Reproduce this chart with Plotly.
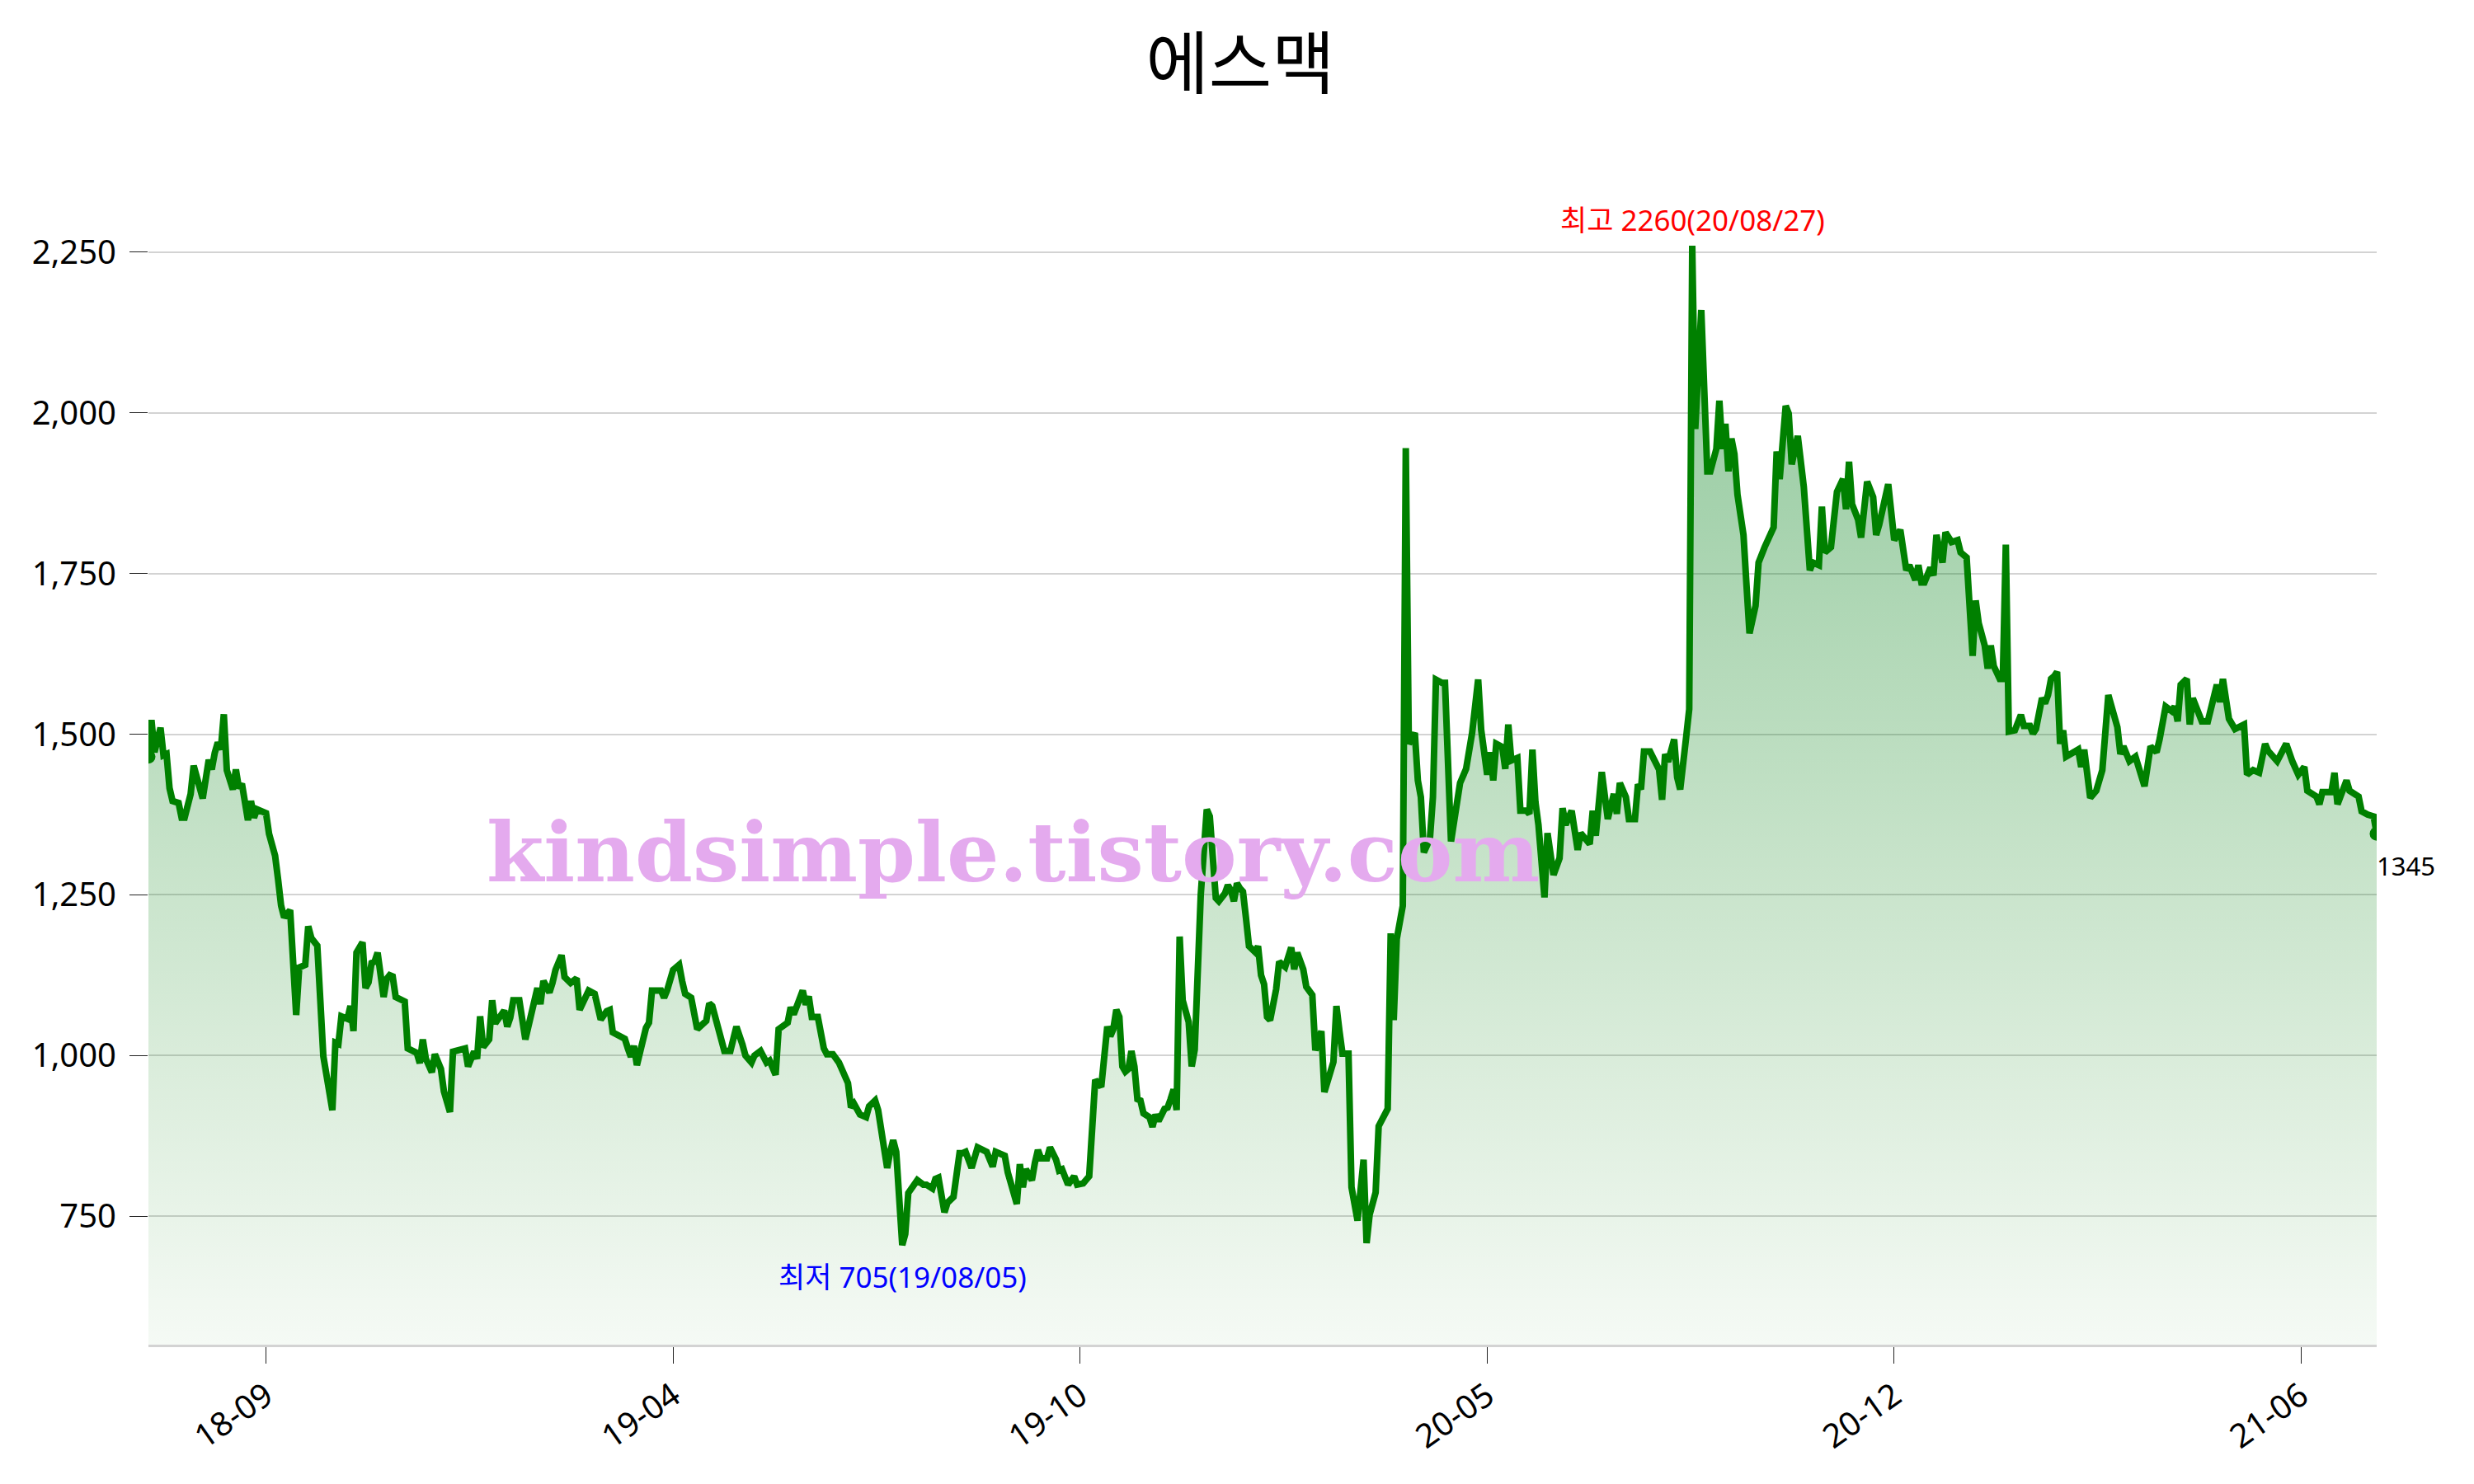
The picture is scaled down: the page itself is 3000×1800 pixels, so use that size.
import plotly.graph_objects as go

chart_title = "에스맥"

# trading-day number (0 = first session shown) and closing price
day_index = [
    0, 1, 2, 4, 5, 6, 7, 8, 10, 11, 12, 14, 15, 17, 18, 20, 21, 22, 23, 24,
    25, 26, 28, 29, 30, 31, 32, 33, 34, 35, 36, 39, 40, 42, 43, 44, 45, 47, 49, 50,
    52, 53, 54, 56, 57, 58, 61, 62, 63, 64, 66, 67, 68, 69, 71, 72, 73, 74, 75, 76,
    78, 79, 80, 81, 82, 85, 86, 87, 89, 90, 91, 92, 94, 95, 97, 98, 100, 101, 105, 106,
    108, 109, 110, 111, 113, 114, 115, 118, 119, 120, 121, 123, 124, 125, 129, 130, 131, 133, 134, 135,
    137, 138, 140, 142, 143, 146, 148, 150, 152, 153, 154, 156, 158, 159, 160, 161, 162, 165, 166, 167,
    170, 171, 172, 174, 176, 177, 178, 180, 181, 182, 185, 186, 187, 190, 191, 193, 195, 197, 198, 200,
    201, 203, 205, 206, 208, 209, 212, 213, 214, 217, 218, 219, 220, 222, 224, 225, 227, 229, 232, 233,
    234, 236, 238, 239, 241, 242, 244, 245, 246, 247, 248, 250, 251, 252, 255, 257, 258, 260, 261, 262,
    264, 265, 267, 269, 270, 271, 273, 275, 278, 280, 281, 284, 285, 288, 289, 290, 291, 293, 294, 295,
    296, 298, 299, 301, 302, 303, 305, 307, 308, 310, 312, 314, 316, 318, 319, 320, 321, 322, 323, 324,
    325, 326, 327, 328, 329, 330, 332, 333, 334, 335, 337, 338, 339, 340, 341, 342, 343, 345, 346, 347,
    349, 350, 351, 352, 353, 354, 355, 357, 358, 359, 360, 361, 362, 363, 364, 365, 367, 368, 369, 370,
    371, 372, 374, 375, 377, 379, 380, 381, 383, 384, 386, 387, 389, 390, 393, 394, 395, 396, 398, 399,
    401, 403, 404, 405, 407, 408, 411, 412, 413, 414, 416, 417, 418, 420, 421, 422, 423, 425, 426, 427,
    429, 430, 432, 435, 437, 439, 441, 442, 444, 445, 446, 447, 449, 450, 451, 452, 454, 455, 457, 458,
    459, 460, 461, 463, 464, 466, 468, 469, 470, 472, 474, 475, 478, 479, 480, 482, 484, 486, 487, 488,
    490, 491, 493, 494, 495, 496, 498, 500, 501, 502, 503, 504, 506, 507, 508, 510, 511, 512, 513, 515,
    516, 517, 518, 520, 521, 522, 523, 524, 525, 526, 527, 529, 530, 531, 533, 534, 536, 539, 540, 541,
    543, 544, 545, 547, 549, 551, 552, 554, 555, 556, 558, 560, 562, 563, 564, 565, 567, 568, 570, 572,
    573, 574, 577, 578, 579, 581, 583, 584, 586, 587, 588, 589, 591, 592, 593, 594, 595, 596, 598, 600,
    601, 603, 604, 605, 606, 607, 609, 610, 611, 612, 614, 615, 616, 617, 619, 621, 622, 624, 625, 626,
    628, 629, 630, 631, 632, 633, 634, 635, 636, 638, 640, 641, 642, 644, 646, 648, 650, 653, 654, 655,
    657, 659, 662, 664, 666, 667, 669, 671, 672, 673, 674, 676, 677, 678, 681, 683, 684, 686, 687, 688,
    690, 692, 695, 696, 698, 700, 702, 703, 706, 709, 711, 713, 715, 716, 719, 720, 721, 724, 725, 726,
    729, 730, 733, 734, 736, 738, 739,
]
close_price = [
    1465, 1522, 1472, 1510, 1467, 1469, 1416, 1396, 1393, 1370, 1370, 1407, 1451, 1421, 1400, 1460, 1445, 1471, 1487, 1476,
    1531, 1444, 1414, 1445, 1416, 1423, 1393, 1366, 1396, 1370, 1383, 1377, 1345, 1311, 1274, 1233, 1215, 1226, 1063, 1137,
    1141, 1201, 1183, 1171, 1086, 999, 915, 1020, 1018, 1061, 1057, 1077, 1038, 1160, 1176, 1105, 1114, 1144, 1146, 1160,
    1091, 1119, 1125, 1123, 1091, 1084, 1011, 1009, 1004, 988, 1025, 995, 974, 1002, 979, 944, 912, 1006, 1011, 983,
    1006, 995, 1061, 1013, 1025, 1086, 1050, 1070, 1045, 1059, 1086, 1086, 1059, 1025, 1105, 1080, 1116, 1098, 1113, 1133,
    1156, 1122, 1113, 1120, 1071, 1101, 1096, 1056, 1069, 1071, 1036, 1030, 1026, 1011, 998, 1015, 985, 1043, 1051, 1101,
    1101, 1090, 1101, 1133, 1141, 1116, 1096, 1090, 1069, 1041, 1054, 1081, 1077, 1030, 1007, 1007, 1045, 1017, 1000, 989,
    1000, 1007, 989, 992, 970, 1041, 1051, 1075, 1064, 1101, 1079, 1092, 1060, 1060, 1011, 1002, 1002, 989, 957, 919,
    925, 908, 904, 921, 930, 915, 855, 825, 850, 868, 850, 705, 722, 786, 806, 799, 799, 793, 808, 810,
    756, 771, 780, 848, 848, 850, 825, 857, 850, 827, 850, 844, 818, 769, 831, 795, 823, 806, 833, 853,
    840, 840, 857, 838, 821, 823, 799, 812, 799, 801, 812, 962, 951, 1045, 1030, 1041, 1071, 1060, 983, 975,
    979, 1007, 983, 932, 930, 910, 904, 889, 908, 898, 917, 919, 932, 947, 915, 1185, 1086, 1052, 983, 1009,
    1250, 1330, 1383, 1372, 1300, 1245, 1240, 1252, 1265, 1257, 1240, 1268, 1260, 1255, 1214, 1170, 1161, 1170, 1125, 1111,
    1060, 1055, 1103, 1146, 1138, 1168, 1134, 1160, 1134, 1107, 1094, 1008, 1038, 943, 990, 1077, 1038, 1003, 1003, 795,
    743, 838, 708, 752, 787, 890, 917, 1190, 1055, 1181, 1233, 1945, 1485, 1502, 1428, 1402, 1316, 1337, 1402, 1585,
    1580, 1580, 1333, 1424, 1446, 1502, 1585, 1507, 1437, 1472, 1428, 1485, 1480, 1446, 1515, 1459, 1463, 1381, 1381, 1376,
    1476, 1394, 1359, 1246, 1346, 1281, 1307, 1385, 1359, 1381, 1320, 1346, 1329, 1381, 1342, 1441, 1368, 1407, 1376, 1424,
    1402, 1368, 1368, 1422, 1414, 1473, 1473, 1450, 1445, 1398, 1469, 1457, 1492, 1433, 1414, 1496, 1539, 2260, 1975, 2160,
    2022, 1909, 1909, 1944, 2019, 1944, 1983, 1909, 1960, 1936, 1873, 1810, 1732, 1657, 1700, 1767, 1791, 1822, 1940, 1897,
    2011, 1999, 1920, 1964, 1885, 1755, 1767, 1763, 1854, 1783, 1791, 1877, 1897, 1850, 1924, 1858, 1834, 1806, 1893, 1869,
    1810, 1826, 1889, 1834, 1802, 1818, 1755, 1763, 1740, 1763, 1736, 1736, 1759, 1747, 1810, 1787, 1767, 1814, 1799, 1802,
    1783, 1775, 1693, 1622, 1708, 1673, 1638, 1602, 1638, 1606, 1586, 1586, 1795, 1504, 1506, 1530, 1513, 1513, 1501, 1508,
    1556, 1548, 1561, 1586, 1590, 1597, 1485, 1506, 1465, 1470, 1476, 1449, 1476, 1401, 1412, 1444, 1561, 1511, 1469, 1481,
    1458, 1465, 1419, 1481, 1472, 1492, 1543, 1536, 1543, 1520, 1577, 1586, 1515, 1556, 1520, 1520, 1536, 1577, 1550, 1586,
    1524, 1508, 1515, 1437, 1444, 1440, 1485, 1474, 1458, 1485, 1458, 1437, 1449, 1412, 1403, 1391, 1410, 1410, 1440, 1391,
    1428, 1412, 1403, 1380, 1375, 1372, 1345,
]

tick_index = [39, 174, 309, 444, 579, 714]
tick_labels = ["18-09", "19-04", "19-10", "20-05", "20-12", "21-06"]
price_ticks = [750, 1000, 1250, 1500, 1750, 2000, 2250]
high_date = "20/08/27"
low_date = "19/08/05"
watermark_text = "kindsimple.tistory.com"

hi_pos = close_price.index(max(close_price))
lo_pos = close_price.index(min(close_price))

fig = go.Figure()
fig.add_trace(go.Scatter(
    x=day_index, y=close_price, mode="lines",
    line=dict(color="#008000", width=8),
    fill="tozeroy",
    fillgradient=dict(
        type="vertical",
        colorscale=[[0, "rgba(0,128,0,0.04)"], [1, "rgba(0,128,30,0.45)"]],
        start=550, stop=2260,
    ),
    hoverinfo="skip", showlegend=False,
))
fig.add_trace(go.Scatter(
    x=[day_index[0], day_index[-1]], y=[close_price[0], close_price[-1]],
    mode="markers", marker=dict(color="#008000", size=17),
    hoverinfo="skip", showlegend=False,
))

base_font = "Noto Sans, Noto Sans CJK KR, sans-serif"
annotations = [
    dict(x=day_index[hi_pos], y=close_price[hi_pos], xref="x", yref="y",
         text=f"최고 {close_price[hi_pos]}({high_date})", showarrow=False,
         xanchor="center", yanchor="middle", yshift=32,
         font=dict(size=35, color="#ff0000", family=base_font)),
    dict(x=day_index[lo_pos], y=close_price[lo_pos], xref="x", yref="y",
         text=f"최저 {close_price[lo_pos]}({low_date})", showarrow=False,
         xanchor="center", yanchor="middle", yshift=-38,
         font=dict(size=35, color="#0000ff", family=base_font)),
    dict(x=day_index[-1], y=close_price[-1], xref="x", yref="y",
         text=str(close_price[-1]), showarrow=False,
         xanchor="left", yanchor="middle", yshift=-39, xshift=-2,
         font=dict(size=31, color="#000000", family=base_font)),
    dict(x=0.388, y=0.414, xref="paper", yref="paper",
         text=f"<b>{watermark_text}</b>", showarrow=False,
         xanchor="center", yanchor="middle",
         font=dict(size=100, color="#e4aaee", family="DejaVu Serif")),
]

# the page adds an 8 px body margin, so the figure is 8 px smaller than the window
fig.update_layout(
    width=2992, height=1792,
    margin=dict(l=172, r=118, t=181, b=169),
    paper_bgcolor="white", plot_bgcolor="white",
    title=dict(text=chart_title, x=0.5, xanchor="center", xref="container",
               y=1 - 70 / 1792, yref="container", yanchor="middle",
               font=dict(size=83, color="#000000", family="Noto Sans CJK KR")),
    annotations=annotations,
    showlegend=False,
)
fig.update_xaxes(
    range=[0, 739], tickmode="array", tickvals=tick_index, ticktext=tick_labels,
    tickangle=-35, ticks="outside", ticklen=20, tickwidth=1, tickcolor="#222222",
    showgrid=False, zeroline=False, showline=True, linecolor="#d3d3d3", linewidth=3,
    tickfont=dict(size=40, color="#000000", family=base_font),
)
fig.update_yaxes(
    range=[550, 2400], tickmode="array", tickvals=price_ticks, tickformat=",",
    ticks="outside", ticklen=22, tickwidth=1, tickcolor="#222222",
    showgrid=True, gridcolor="#d3d3d3", gridwidth=2, zeroline=False, showline=False,
    ticklabelstandoff=8,
    tickfont=dict(size=40, color="#000000", family=base_font),
)

fig.write_html("out.html")
